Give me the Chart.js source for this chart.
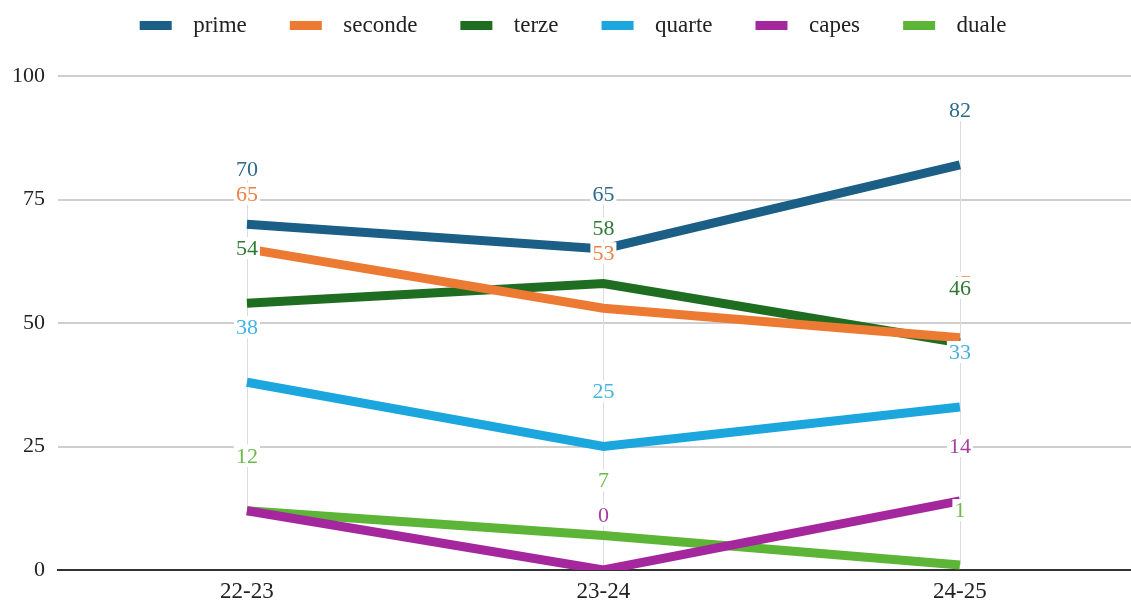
<!DOCTYPE html>
<html>
<head>
<meta charset="utf-8">
<script src="https://cdn.jsdelivr.net/npm/chart.js@4.4.1/dist/chart.umd.min.js"></script>
<style>
  html, body { margin: 0; padding: 0; background: #fff; overflow: hidden; }
  #box { width: 1131px; height: 603px; }
</style>
</head>
<body>
<div id="box"><canvas id="grafico"></canvas></div>
<script>
// dati
var anni = ['22-23', '23-24', '24-25'];
var serie = ['prime', 'seconde', 'terze', 'quarte', 'capes', 'duale'];
var prime = [70, 65, 82];
var seconde = [65, 53, 47];
var terze = [54, 58, 46];
var quarte = [38, 25, 33];
var capes = [12, 0, 14];
var duale = [12, 7, 1];
var tickY = [0, 25, 50, 75, 100];

var colori = ['#1b5e86', '#ec7a33', '#1e6d21', '#1ba6de', '#a5279d', '#5cb536'];
var coloriEtichette = ['#2d6a8e', '#e8834a', '#2f7a33', '#45b3e0', '#a63fa0', '#6cbb4a'];
var FONT = "'Liberation Serif', 'Times New Roman', serif";

// quadratino della legenda con lo spazio attorno
function quadratino(colore) {
    var c = document.createElement('canvas');
    c.width = 75;
    c.height = 9;
    var ctx = c.getContext('2d');
    ctx.fillStyle = colore;
    ctx.fillRect(33, 0, 32, 9);
    return c;
}

function puntiDi(valori) {
    return valori.map(function (v, i) { return { x: i, y: v }; });
}

var valori = [prime, seconde, terze, quarte, capes, duale];

var datasets = serie.map(function (nome, i) {
    return {
        label: nome,
        data: puntiDi(valori[i]),
        borderColor: colori[i],
        backgroundColor: colori[i],
        borderWidth: 9,
        borderCapStyle: 'butt',
        pointRadius: 0,
        pointHoverRadius: 0,
        pointStyle: quadratino(colori[i]),
        fill: false,
        tension: 0
    };
});

var SOPRA = 55;

// linee guida verticali sotto le linee
var guide = {
    id: 'guide',
    beforeDatasetsDraw: function (chart) {
        var ctx = chart.ctx;
        ctx.save();
        anni.forEach(function (a, j) {
            var top = Infinity, bottom = -Infinity, x = 0;
            chart.data.datasets.forEach(function (ds, i) {
                var p = chart.getDatasetMeta(i).data[j];
                x = p.x;
                top = Math.min(top, p.y - SOPRA);
                bottom = Math.max(bottom, p.y);
            });
            ctx.strokeStyle = '#dcdcdc';
            ctx.lineWidth = 1;
            ctx.beginPath();
            ctx.moveTo(Math.round(x) + 0.5, top);
            ctx.lineTo(Math.round(x) + 0.5, bottom);
            ctx.stroke();
        });
        ctx.restore();
    }
};

// etichette dei valori con sfondo bianco, sopra le linee
var etichette = {
    id: 'etichette',
    afterDatasetsDraw: function (chart) {
        var ctx = chart.ctx;
        ctx.save();
        ctx.font = '22px ' + FONT;
        ctx.textAlign = 'center';
        ctx.textBaseline = 'middle';
        chart.data.datasets.forEach(function (ds, i) {
            chart.getDatasetMeta(i).data.forEach(function (p, j) {
                var testo = String(valori[i][j]);
                var w = ctx.measureText(testo).width;
                var y = p.y - SOPRA;
                ctx.fillStyle = '#fff';
                ctx.fillRect(p.x - w / 2 - 2, y - 11, w + 4, 22);
                ctx.fillStyle = coloriEtichette[i];
                ctx.fillText(testo, p.x, y + 1);
            });
        });
        ctx.restore();
    }
};

var spostaLegenda = {
    id: 'spostaLegenda',
    beforeInit: function (chart) {
        var fit = chart.legend.fit;
        chart.legend.fit = function () {
            fit.bind(chart.legend)();
            this.height += 29;
        };
    },
    afterLayout: function (chart) {
        chart.legend.left -= 9;
        chart.legend.right -= 9;
    }
};

new Chart(document.getElementById('grafico'), {
    type: 'line',
    data: { datasets: datasets },
    plugins: [guide, etichette, spostaLegenda],
    options: {
        responsive: true,
        maintainAspectRatio: false,
        animation: false,
        layout: { padding: { top: 4, left: 0, right: 0, bottom: 0 } },
        plugins: {
            tooltip: { enabled: false },
            legend: {
                position: 'top',
                labels: {
                    usePointStyle: true,
                    pointStyleWidth: 75,
                    padding: 10,
                    color: '#222',
                    font: { family: FONT, size: 23 }
                }
            }
        },
        scales: {
            x: {
                type: 'linear',
                min: -0.53,
                max: 2.48,
                grid: { display: false, drawTicks: false },
                border: { display: true, color: '#333', width: 2 },
                afterFit: function (s) { s.height = 33; },
                ticks: {
                    stepSize: 1,
                    includeBounds: false,
                    padding: 8,
                    color: '#222',
                    font: { family: FONT, size: 23 },
                    callback: function (v) { return anni[v]; }
                }
            },
            y: {
                min: 0,
                max: 100,
                afterFit: function (s) { s.width = 58; },
                afterBuildTicks: function (s) {
                    s.ticks = tickY.map(function (v) { return { value: v }; });
                },
                grid: {
                    drawTicks: false,
                    lineWidth: 2,
                    color: function (c) { return c.tick && c.tick.value === 0 ? 'rgba(0,0,0,0)' : '#cfcfcf'; }
                },
                border: { display: false },
                ticks: {
                    padding: 13,
                    color: '#222',
                    font: { family: FONT, size: 22 }
                }
            }
        }
    }
});
</script>
</body>
</html>
